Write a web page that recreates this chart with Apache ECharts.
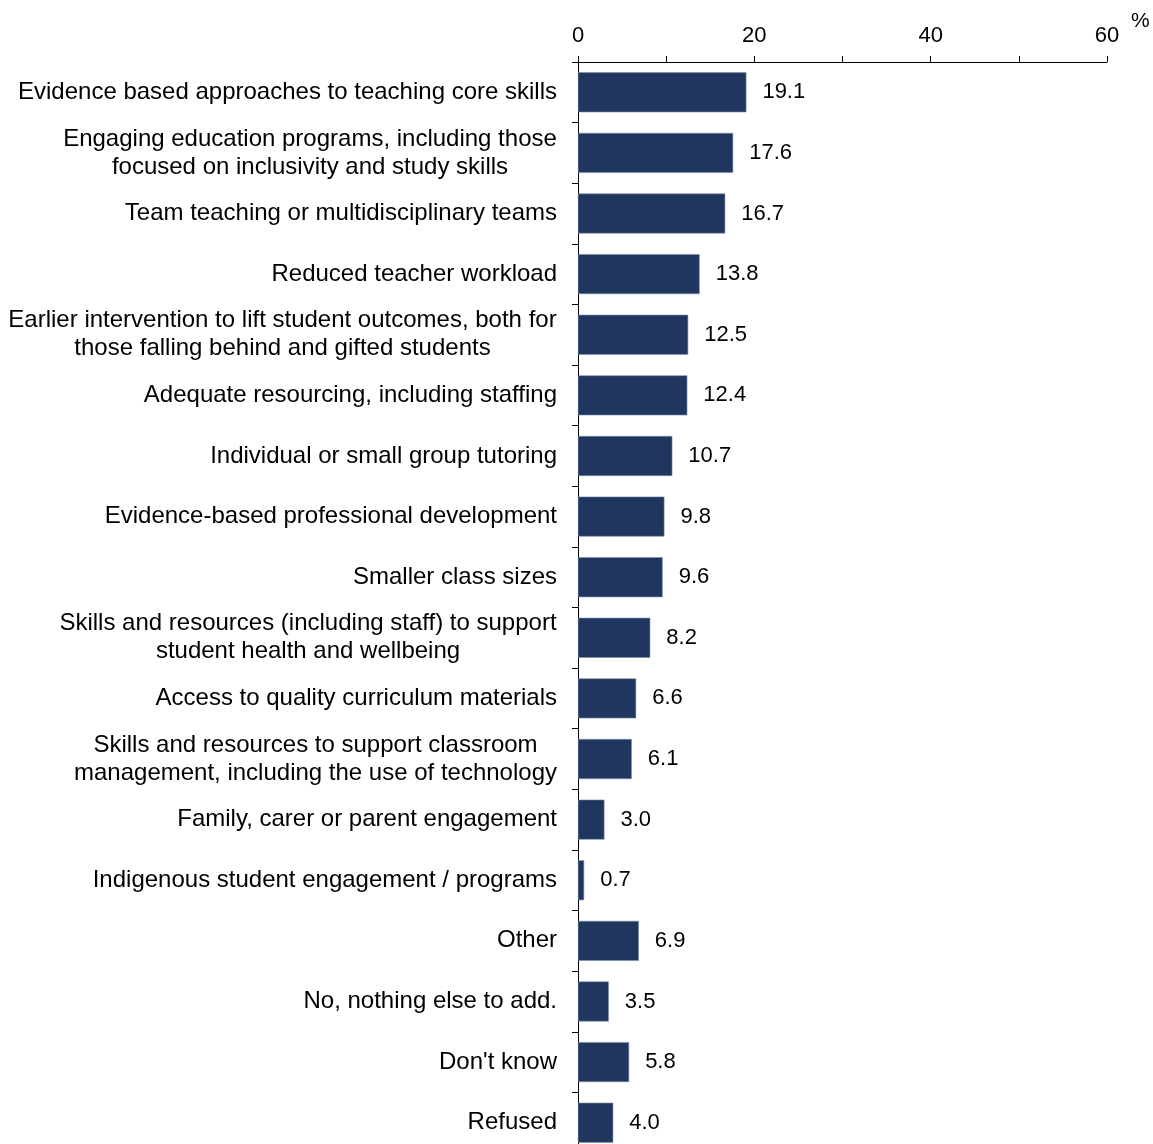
<!DOCTYPE html>
<html>
<head>
<meta charset="utf-8">
<style>
  html, body { margin: 0; padding: 0; background: #fff; overflow: hidden; }
  #chart { width: 1153px; height: 1160px; }
</style>
<script src="https://cdn.jsdelivr.net/npm/echarts@6/dist/echarts.min.js"></script>
</head>
<body>
<div id="chart"></div>
<script>
// Survey responses: share of respondents (%) naming each item
const categories = [
  'Evidence based approaches to teaching core skills',
  'Engaging education programs, including those\nfocused on inclusivity and study skills',
  'Team teaching or multidisciplinary teams',
  'Reduced teacher workload',
  'Earlier intervention to lift student outcomes, both for\nthose falling behind and gifted students',
  'Adequate resourcing, including staffing',
  'Individual or small group tutoring',
  'Evidence-based professional development',
  'Smaller class sizes',
  'Skills and resources (including staff) to support\nstudent health and wellbeing',
  'Access to quality curriculum materials',
  'Skills and resources to support classroom\nmanagement, including the use of technology',
  'Family, carer or parent engagement',
  'Indigenous student engagement / programs',
  'Other',
  'No, nothing else to add.',
  "Don't know",
  'Refused'
];
const values = [19.1, 17.6, 16.7, 13.8, 12.5, 12.4, 10.7, 9.8, 9.6, 8.2, 6.6, 6.1, 3.0, 0.7, 6.9, 3.5, 5.8, 4.0];
const xTicks = [0, 20, 40, 60];

const FONT = '"Liberation Sans", Arial, sans-serif';
const CAT_FS = 24;
const NUM_FS = 22;

// Multi-line labels: centre each line within the block width (block stays right-aligned)
const ctx = document.createElement('canvas').getContext('2d');
ctx.font = CAT_FS + 'px ' + FONT;
const rich = {};
categories.forEach((c, i) => {
  if (c.indexOf('\n') >= 0) {
    const w = Math.max(...c.split('\n').map(l => ctx.measureText(l).width));
    rich['m' + i] = { width: Math.ceil(w), align: 'center', fontSize: CAT_FS, fontFamily: FONT, color: '#000', lineHeight: 28 };
  }
});

const chart = echarts.init(document.getElementById('chart'));
chart.setOption({
  animation: false,
  grid: { left: 578, right: 46, top: 62, bottom: 7, containLabel: false },
  xAxis: {
    type: 'value',
    position: 'top',
    min: 0,
    max: 60,
    interval: 10,
    axisLine: { show: true, lineStyle: { color: '#000', width: 1 } },
    axisTick: { show: true, length: 6, lineStyle: { color: '#000' } },
    splitLine: { show: false },
    axisLabel: {
      margin: 15,
      color: '#000',
      fontSize: NUM_FS,
      fontFamily: FONT,
      formatter: v => xTicks.indexOf(v) >= 0 ? String(v) : ''
    }
  },
  yAxis: {
    type: 'category',
    inverse: true,
    data: categories,
    axisLine: { show: true, lineStyle: { color: '#000', width: 1 } },
    axisTick: { show: true, length: 6, lineStyle: { color: '#000' } },
    axisLabel: {
      margin: 21,
      color: '#000',
      fontSize: CAT_FS,
      fontFamily: FONT,
      lineHeight: 28,
      rich: rich,
      formatter: (v, i) => {
        if (v.indexOf('\n') < 0) return v;
        return v.split('\n').map(l => '{m' + i + '|' + l + '}').join('\n');
      }
    }
  },
  series: [{
    type: 'bar',
    data: values,
    barCategoryGap: '34%',
    itemStyle: { color: '#1f365e', borderColor: '#7d8fae', borderWidth: 0.6 },
    label: {
      show: true,
      position: 'right',
      distance: 16,
      color: '#000',
      fontSize: NUM_FS,
      fontFamily: FONT,
      formatter: p => p.value.toFixed(1)
    }
  }],
  graphic: [{
    type: 'text',
    left: 1131,
    top: 11,
    style: { text: '%', fontSize: 21, fontFamily: FONT, fill: '#000' }
  }]
});
</script>
</body>
</html>
